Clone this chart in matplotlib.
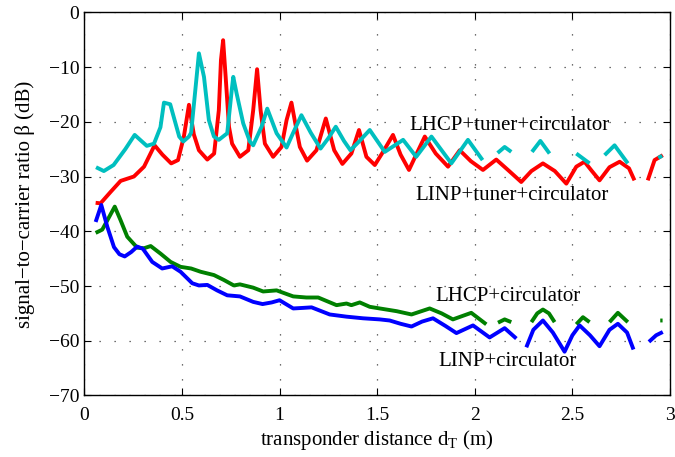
import numpy as np
import matplotlib
matplotlib.use('Agg')
import matplotlib.pyplot as plt

plt.rcParams['font.family'] = ['Liberation Serif', 'DejaVu Serif']
plt.rcParams['mathtext.fontset'] = 'custom'
plt.rcParams['mathtext.rm'] = 'Liberation Serif'
plt.rcParams['mathtext.it'] = 'Liberation Serif:italic'

nan = np.nan

# LHCP + tuner + circulator (cyan)
lhcp_tuner_x = [0.06, 0.10, 0.15, 0.21, 0.258, 0.32, 0.357, 0.39, 0.408, 0.44, 0.486, 0.507, 0.536,
                0.547, 0.567, 0.587, 0.613, 0.638, 0.664, 0.689, 0.732, 0.757, 0.763, 0.78, 0.814,
                0.848, 0.865, 0.908, 0.937, 0.985, 1.036, 1.07, 1.112, 1.16, 1.21, 1.25, 1.288,
                1.33, 1.363, 1.41, 1.462, 1.539, 1.633, 1.70, 1.778, 1.88, 1.965, 2.04, nan,
                2.117, 2.153, 2.187, nan, 2.293, 2.336, 2.383, nan, 2.52, 2.588, nan,
                2.665, 2.716, 2.784, nan, 2.94, 2.96]
lhcp_tuner_y = [-28.3, -29.0, -27.9, -25.0, -22.4, -24.4, -24.0, -21.0, -16.5, -16.8, -22.7, -23.6, -22.7,
                -22.0, -14.8, -7.5, -11.8, -19.7, -22.7, -23.3, -22.1, -13.6, -11.8, -14.8, -20.3,
                -23.6, -24.3, -20.9, -17.6, -22.1, -24.7, -22.0, -18.8, -22.0, -24.9, -23.0, -20.9,
                -23.5, -25.2, -23.5, -21.5, -25.5, -23.3, -26.4, -22.7, -27.6, -23.3, -27.0, nan,
                -25.7, -24.6, -25.5, nan, -25.5, -23.5, -25.8, nan, -25.8, -27.6, nan,
                -26.1, -24.3, -27.6, nan, -26.6, -26.2]

# LINP + tuner + circulator (red)
linp_tuner_x = [0.058, 0.083, 0.135, 0.186, 0.254, 0.306, 0.36, 0.40, 0.445, 0.48, 0.51, 0.536, 0.561,
                0.587, 0.63, 0.665, 0.689, 0.70, 0.711, 0.724, 0.741, 0.757, 0.797, 0.84, 0.865,
                0.885, 0.903, 0.925, 0.967, 1.01, 1.036, 1.061, 1.087, 1.104, 1.141, 1.189, 1.237,
                1.28, 1.322, 1.368, 1.407, 1.445, 1.488, 1.53, 1.581, 1.62, 1.663, 1.70, 1.744,
                1.80, 1.863, 1.923, 1.98, 2.042, 2.11, 2.17, 2.238, 2.29, 2.349, 2.41, 2.469,
                2.52, 2.562, 2.60, 2.639, 2.69, 2.742, 2.79, 2.818, nan, 2.886, 2.921, 2.963]
linp_tuner_y = [-34.8, -34.9, -32.8, -30.8, -30.0, -28.2, -24.3, -26.0, -27.6, -27.0, -22.7, -16.9, -22.3,
                -25.2, -26.9, -25.8, -17.9, -8.7, -5.1, -11.8, -20.9, -24.0, -26.4, -25.2, -17.9,
                -10.4, -17.9, -24.0, -26.4, -24.6, -19.7, -16.5, -21.5, -24.6, -27.1, -25.2, -19.4,
                -25.2, -27.7, -25.8, -21.5, -26.4, -27.9, -25.5, -22.4, -26.0, -28.8, -26.0, -22.7,
                -25.8, -28.2, -25.2, -27.2, -28.8, -26.9, -28.8, -31.0, -29.0, -27.6, -29.0, -31.3,
                -28.2, -27.3, -29.0, -30.7, -28.3, -27.3, -28.5, -30.7, nan, -30.7, -27.0, -26.1]

# LHCP + circulator (green)
lhcp_x = [0.058, 0.092, 0.118, 0.156, 0.186, 0.22, 0.271, 0.306, 0.34, 0.391, 0.442, 0.493, 0.547,
          0.596, 0.664, 0.715, 0.766, 0.797, 0.865, 0.916, 0.985, 1.07, 1.137, 1.198, 1.292, 1.343,
          1.368, 1.411, 1.462, 1.513, 1.60, 1.676, 1.769, 1.83, 1.888, 1.982, 2.059, nan,
          2.119, 2.153, 2.187, nan, 2.29, 2.32, 2.349, 2.38, 2.409, nan, 2.52, 2.554, 2.588, nan,
          2.69, 2.733, 2.784, nan, 2.95, 2.962]
lhcp_y = [-40.3, -39.7, -38.0, -35.5, -38.0, -41.0, -43.0, -43.1, -42.7, -44.1, -45.6, -46.5, -46.8,
          -47.4, -48.0, -48.9, -49.9, -49.7, -50.3, -51.0, -50.8, -51.9, -52.1, -52.1, -53.5, -53.2,
          -53.5, -53.0, -53.8, -54.1, -54.6, -55.2, -54.1, -55.0, -56.1, -54.9, -57.0, nan,
          -56.7, -56.1, -56.6, nan, -56.6, -55.0, -54.3, -55.0, -56.6, nan, -57.0, -55.7, -56.6, nan,
          -56.6, -54.9, -56.6, nan, -56.3, -56.3]

# LINP + circulator (blue)
linp_x = [0.058, 0.087, 0.118, 0.152, 0.18, 0.207, 0.24, 0.271, 0.30, 0.348, 0.399, 0.45, 0.493,
          0.553, 0.587, 0.63, 0.68, 0.732, 0.797, 0.865, 0.913, 0.96, 1.0, 1.07, 1.12, 1.164,
          1.257, 1.343, 1.428, 1.513, 1.564, 1.62, 1.676, 1.73, 1.786, 1.85, 1.906, 1.991, 2.076,
          2.153, 2.213, nan, 2.264, 2.30, 2.349, 2.40, 2.46, 2.50, 2.537, 2.59, 2.639, 2.69,
          2.733, 2.78, 2.813, nan, 2.892, 2.929, 2.963]
linp_y = [-38.3, -35.2, -39.2, -42.9, -44.2, -44.6, -43.8, -42.8, -43.2, -45.6, -46.8, -46.4, -47.4,
          -49.5, -49.9, -49.8, -50.8, -51.7, -51.9, -52.9, -53.3, -53.0, -52.6, -54.1, -54.0, -53.9,
          -55.2, -55.6, -55.9, -56.1, -56.3, -56.9, -57.4, -56.5, -55.9, -57.3, -58.6, -57.2, -59.4,
          -57.7, -59.6, nan, -61.2, -58.0, -56.3, -58.5, -62.0, -59.0, -57.2, -59.0, -61.0, -58.0,
          -56.9, -58.5, -61.6, nan, -60.2, -59.0, -58.4]

fig = plt.figure(figsize=(6.75, 4.57), dpi=100)
ax = fig.add_axes([0.1249, 0.1346, 0.8677, 0.8385])

lw = 2.8
style = dict(lw=lw, solid_joinstyle='round', solid_capstyle='butt')
ax.plot(linp_tuner_x, linp_tuner_y, color='#ff0000', **style)
ax.plot(lhcp_tuner_x, lhcp_tuner_y, color='#00bfbf', **style)
ax.plot(lhcp_x, lhcp_y, color='#008000', **style)
ax.plot(linp_x, linp_y, color='#0000ff', **style)

ax.text(2.18, -20.6, 'LHCP+tuner+circulator', fontsize=15, ha='center', va='center')
ax.text(2.19, -33.4, 'LINP+tuner+circulator', fontsize=15, ha='center', va='center')
ax.text(2.17, -51.9, 'LHCP+circulator', fontsize=15, ha='center', va='center')
ax.text(2.17, -63.8, 'LINP+circulator', fontsize=15, ha='center', va='center')

ax.set_xlim(0, 3)
ax.set_ylim(-70, 0)
ax.set_xticks([0, 0.5, 1, 1.5, 2, 2.5, 3])
ax.set_xticklabels(['0', '0.5', '1', '1.5', '2', '2.5', '3'])
ax.set_yticks(range(-70, 1, 10))
ax.tick_params(direction='in', top=True, right=True, labelsize=14, length=5, width=0.8)
ax.tick_params(axis='x', pad=8)
ax.grid(True, color='#404040', linestyle=(0, (1, 11)), linewidth=0.9)
for s in ax.spines.values():
    s.set_linewidth(1.0)

ax.set_xlabel('transponder distance d$_\\mathrm{T}$ (m)', fontsize=15, labelpad=3)
ax.set_ylabel('signal\u2212to\u2212carrier ratio \u03b2 (dB)', fontsize=15, labelpad=10)

fig.savefig('out.png', dpi=100)
